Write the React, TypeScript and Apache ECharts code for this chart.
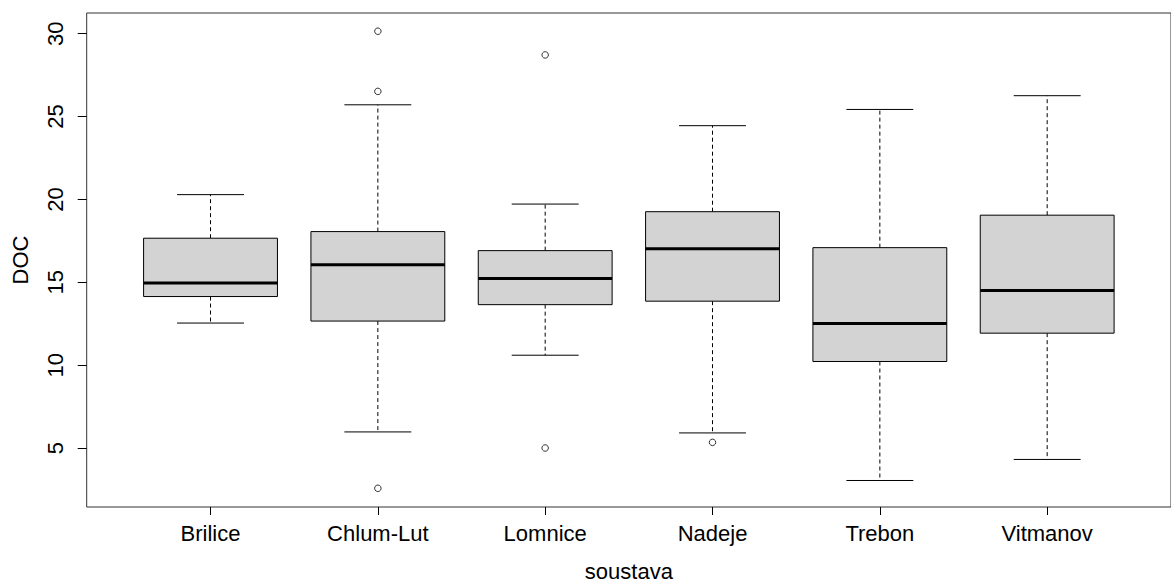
import React, { useEffect, useRef } from "react";
import * as echarts from "echarts";

const categories = ["Brilice", "Chlum-Lut", "Lomnice", "Nadeje", "Trebon", "Vitmanov"];
const whiskerLow = [12.54, 5.97, 10.6, 5.91, 3.04, 4.31];
const q1 = [14.14, 12.66, 13.65, 13.86, 10.22, 11.93];
const median = [14.95, 16.06, 15.23, 17.03, 12.52, 14.5];
const q3 = [17.66, 18.06, 16.91, 19.26, 17.09, 19.05];
const whiskerHigh = [20.29, 25.71, 19.72, 24.45, 25.43, 26.26];
const outlierCategory = ["Chlum-Lut", "Chlum-Lut", "Chlum-Lut", "Lomnice", "Lomnice", "Nadeje"];
const outlierValues = [30.15, 26.52, 2.57, 28.72, 5.0, 5.34];
const yTicks = [5, 10, 15, 20, 25, 30];
const xTicks = categories.map((_, i) => i + 1);

const FONT = "'Liberation Sans', Arial, sans-serif";

export default function App() {
  const ref = useRef<HTMLDivElement>(null);
  useEffect(() => {
    if (!ref.current) return;
    const chart = echarts.init(ref.current, null, { renderer: "svg" });
    const boxData = categories.map((_, i) => [
      i + 1,
      whiskerLow[i],
      q1[i],
      median[i],
      q3[i],
      whiskerHigh[i],
    ]);
    const outlierData = outlierValues.map((v, i) => [
      categories.indexOf(outlierCategory[i]) + 1,
      v,
    ]);
    chart.setOption({
      animation: false,
      backgroundColor: "#fff",
      grid: {
        left: 86.7,
        top: 13,
        right: -10,
        bottom: 72,
        show: true,
        borderColor: "#333",
        borderWidth: 1,
        backgroundColor: "transparent",
      },
      xAxis: {
        type: "value",
        min: 0.26,
        max: 6.74,
        name: "soustava",
        nameLocation: "middle",
        nameGap: 53,
        nameTextStyle: { fontSize: 22, color: "#000", fontFamily: FONT },
        axisLine: { show: false },
        splitLine: { show: false },
        axisTick: {
          show: true,
          customValues: xTicks,
          length: 8,
          lineStyle: { color: "#000", width: 1 },
        },
        axisLabel: {
          customValues: xTicks,
          formatter: (v: number) => categories[Math.round(v) - 1] ?? "",
          fontSize: 22,
          color: "#000",
          fontFamily: FONT,
          margin: 15,
        },
      },
      yAxis: {
        type: "value",
        min: 1.44,
        max: 31.25,
        name: "DOC",
        nameLocation: "middle",
        nameGap: 55,
        nameTextStyle: { fontSize: 22, color: "#000", fontFamily: FONT },
        axisLine: { show: false },
        splitLine: { show: false },
        axisTick: {
          show: true,
          customValues: yTicks,
          length: 9,
          lineStyle: { color: "#000", width: 1 },
        },
        axisLabel: {
          customValues: yTicks,
          rotate: 90,
          fontSize: 22,
          color: "#000",
          fontFamily: FONT,
          margin: 20,
        },
      },
      series: [
        {
          type: "custom",
          data: boxData,
          encode: { x: 0, y: [1, 2, 3, 4, 5] },
          renderItem: (params: any, api: any) => {
            const x = api.value(0);
            const lo = api.coord([x, api.value(1)]);
            const b1 = api.coord([x, api.value(2)]);
            const md = api.coord([x, api.value(3)]);
            const b3 = api.coord([x, api.value(4)]);
            const hi = api.coord([x, api.value(5)]);
            const cx = lo[0];
            const half = api.size([0.8, 0])[0] / 2;
            const capHalf = api.size([0.4, 0])[0] / 2;
            const solid = { stroke: "#000", lineWidth: 1, fill: null };
            const dashed = { stroke: "#000", lineWidth: 1, lineDash: [4, 3], fill: null };
            return {
              type: "group",
              children: [
                { type: "line", shape: { x1: cx, y1: b3[1], x2: cx, y2: hi[1] }, style: dashed },
                { type: "line", shape: { x1: cx, y1: b1[1], x2: cx, y2: lo[1] }, style: dashed },
                { type: "line", shape: { x1: cx - capHalf, y1: hi[1], x2: cx + capHalf, y2: hi[1] }, style: solid },
                { type: "line", shape: { x1: cx - capHalf, y1: lo[1], x2: cx + capHalf, y2: lo[1] }, style: solid },
                {
                  type: "rect",
                  shape: { x: cx - half, y: b3[1], width: half * 2, height: b1[1] - b3[1] },
                  style: { fill: "#d3d3d3", stroke: "#000", lineWidth: 1 },
                },
                {
                  type: "line",
                  shape: { x1: cx - half, y1: md[1], x2: cx + half, y2: md[1] },
                  style: { stroke: "#000", lineWidth: 3 },
                },
              ],
            };
          },
        },
        {
          type: "scatter",
          data: outlierData,
          symbol: "circle",
          symbolSize: 6.5,
          itemStyle: { color: "rgba(255,255,255,0)", borderColor: "#000", borderWidth: 1 },
        },
      ],
    });
    return () => chart.dispose();
  }, []);
  return (
    <div
      ref={ref}
      style={{ position: "fixed", left: 0, top: 0, width: 1171, height: 587 }}
    />
  );
}
